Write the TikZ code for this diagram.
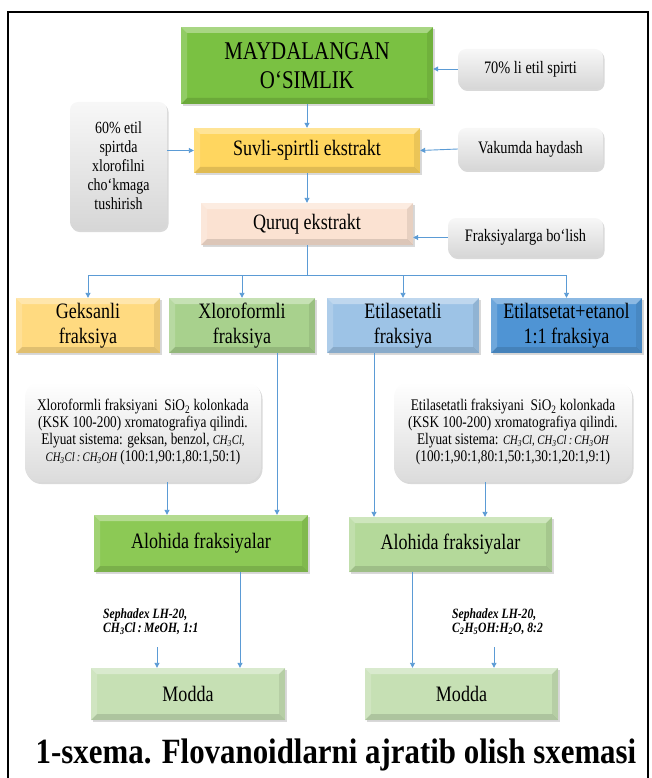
\documentclass[tikz,border=0pt]{standalone}
\usepackage{fontspec}
\setmainfont{Liberation Serif}[FakeStretch=0.82]
\newfontfamily\capfont{Liberation Serif}[FakeStretch=0.87]
\usetikzlibrary{arrows.meta,shadows}

\definecolor{linkblue}{RGB}{91,155,213}
\definecolor{cRaw}{RGB}{122,193,66}
\definecolor{cSuv}{RGB}{255,214,95}
\definecolor{cQur}{RGB}{251,226,210}
\definecolor{cGek}{RGB}{255,218,128}
\definecolor{cXlo}{RGB}{168,209,141}
\definecolor{cEtl}{RGB}{157,195,230}
\definecolor{cEte}{RGB}{79,148,212}
\definecolor{cAl1}{RGB}{140,201,85}
\definecolor{cAl2}{RGB}{180,217,154}
\definecolor{cMod}{RGB}{198,224,180}

\newcommand{\chemf}[1]{{\itshape\fontsize{13}{15}\selectfont #1}}

\tikzset{
  bevel/.style={path picture={
    \fill[white,opacity=.35] (path picture bounding box.north west) -- (path picture bounding box.north east)
      -- ([xshift=-6pt,yshift=-6pt]path picture bounding box.north east) -- ([xshift=6pt,yshift=-6pt]path picture bounding box.north west) -- cycle;
    \fill[white,opacity=.18] (path picture bounding box.north west) -- (path picture bounding box.south west)
      -- ([xshift=6pt,yshift=6pt]path picture bounding box.south west) -- ([xshift=6pt,yshift=-6pt]path picture bounding box.north west) -- cycle;
    \fill[black,opacity=.12] (path picture bounding box.south west) -- (path picture bounding box.south east)
      -- ([xshift=-6pt,yshift=6pt]path picture bounding box.south east) -- ([xshift=6pt,yshift=6pt]path picture bounding box.south west) -- cycle;
    \fill[black,opacity=.08] (path picture bounding box.north east) -- (path picture bounding box.south east)
      -- ([xshift=-6pt,yshift=6pt]path picture bounding box.south east) -- ([xshift=-6pt,yshift=-6pt]path picture bounding box.north east) -- cycle;
  }},
  stage/.style={bevel, align=center, inner sep=2pt, font=\fontsize{22}{25}\selectfont,
    drop shadow={opacity=.3, shadow xshift=1.5pt, shadow yshift=-2pt}},
  note/.style={rounded corners=8pt, top color=gray!6, bottom color=gray!32, align=center, inner sep=2pt,
    font=\fontsize{17.5}{19}\selectfont, drop shadow={opacity=.3, shadow xshift=1.5pt, shadow yshift=-2pt}},
  column/.style={note, rounded corners=15pt, top color=white, bottom color=gray!28, font=\fontsize{16.2}{17}\selectfont},
  solvent/.style={anchor=west, align=left, inner sep=0pt, font=\fontsize{14.2}{14}\selectfont\bfseries\itshape},
  link/.style={draw=linkblue, line width=0.9pt},
  arr/.style={link, -{Triangle[length=5pt,width=5pt]}}
}

\begin{document}
\begin{tikzpicture}[x=1pt,y=-1pt]
\useasboundingbox (0,0) rectangle (652,778);
\begin{scope}
\clip (0,0) rectangle (652,778);
\draw[line width=1.6pt] (8,12) rectangle (648,820);
\end{scope}

\node[stage, fill=cRaw, minimum width=252pt, minimum height=77pt, font=\fontsize{25.5}{29}\selectfont] (raw) at (307,65.5) {MAYDALANGAN\\O‘SIMLIK};
\node[note, minimum width=145pt, minimum height=40pt] (l70) at (530.5,69) {70\% li etil spirti};
\node[note, minimum width=97pt, minimum height=128pt, font=\fontsize{17}{19}\selectfont] (l60) at (118.5,166) {60\% etil\\spirtda\\xlorofilni\\cho‘kmaga\\tushirish};
\node[stage, fill=cSuv, minimum width=226pt, minimum height=45pt] (suv) at (307,150.5) {Suvli-spirtli ekstrakt};
\node[note, minimum width=145pt, minimum height=42pt] (vak) at (530.5,149) {Vakumda haydash};
\node[stage, fill=cQur, minimum width=212pt, minimum height=42pt] (qur) at (307,224) {Quruq ekstrakt};
\node[note, minimum width=155pt, minimum height=39pt] (frk) at (525.5,237.5) {Fraksiyalarga bo‘lish};
\coordinate (hub) at (307,275);

\node[stage, fill=cGek, minimum width=144pt, minimum height=55pt] (gek) at (88,325.5) {Geksanli\\fraksiya};
\node[stage, fill=cXlo, minimum width=146pt, minimum height=55pt] (xlo) at (242,325.5) {Xloroformli\\fraksiya};
\node[stage, fill=cEtl, minimum width=152pt, minimum height=55pt] (etl) at (403,325.5) {Etilasetatli\\fraksiya};
\node[stage, fill=cEte, minimum width=151pt, minimum height=55pt] (ete) at (566.5,325.5) {Etilatsetat+etanol\\1:1 fraksiya};

\node[column, minimum width=236pt, minimum height=100pt] (kol1) at (143,432) {Xloroformli fraksiyani\ \ SiO\textsubscript{2} kolonkada\\(KSK 100-200) xromatografiya qilindi.\\Elyuat sistema: geksan, benzol, \chemf{CH\textsubscript{3}Cl,}\\\chemf{CH\textsubscript{3}Cl\,:\,CH\textsubscript{3}OH} (100:1,90:1,80:1,50:1)};
\node[column, minimum width=238pt, minimum height=100pt] (kol2) at (513,432) {Etilasetatli fraksiyani\ \ SiO\textsubscript{2} kolonkada\\(KSK 100-200) xromatografiya qilindi.\\Elyuat sistema: \chemf{CH\textsubscript{3}Cl, CH\textsubscript{3}Cl\,:\,CH\textsubscript{3}OH}\\(100:1,90:1,80:1,50:1,30:1,20:1,9:1)};

\node[stage, fill=cAl1, minimum width=214pt, minimum height=57pt] (al1) at (201,543.5) {Alohida fraksiyalar};
\node[stage, fill=cAl2, minimum width=203pt, minimum height=55pt] (al2) at (450.5,544.5) {Alohida fraksiyalar};

\node[solvent] (sep1) at (103,622) {Sephadex LH-20,\\CH\textsubscript{3}Cl\,:\,MeOH, 1:1};
\node[solvent] (sep2) at (452,622) {Sephadex LH-20,\\C\textsubscript{2}H\textsubscript{5}OH:H\textsubscript{2}O, 8:2};
\coordinate (s1) at (157,647);
\coordinate (s2) at (494,647);

\node[stage, fill=cMod, minimum width=194pt, minimum height=52pt] (mod1) at (188,694) {Modda};
\node[stage, fill=cMod, minimum width=193pt, minimum height=52pt] (mod2) at (461.5,694) {Modda};

\node[font=\capfont\fontsize{35.5}{40}\selectfont\bfseries] (cap) at (336,755) {1-sxema. Flovanoidlarni ajratib olish sxemasi};

\draw[arr] (l70.west) -- (l70.west -| raw.east);
\draw[arr] (raw.south) -- (suv.north);
\draw[arr] (l60.east |- suv.west) -- (suv.west);
\draw[arr] (vak.west) -- (suv.east);
\draw[arr] (suv.south) -- (qur.north);
\draw[arr] (frk.west) -- (frk.west -| qur.east);
\draw[link] (qur.south) -- (hub);
\draw[arr] (hub) -| (gek.north);
\draw[arr] (hub) -| (xlo.north);
\draw[arr] (hub) -| (etl.north);
\draw[arr] (hub) -| (ete.north);

\draw[arr] ([xshift=35pt]xlo.south) -- ([xshift=35pt]xlo.south |- al1.north);
\draw[arr] ([xshift=24pt]kol1.south) -- ([xshift=24pt]kol1.south |- al1.north);
\draw[arr] ([xshift=-29pt]etl.south) -- ([xshift=-29pt]etl.south |- al2.north);
\draw[arr] ([xshift=-28pt]kol2.south) -- ([xshift=-28pt]kol2.south |- al2.north);

\draw[arr] ([xshift=39pt]al1.south) -- ([xshift=39pt]al1.south |- mod1.north);
\draw[arr] (s1) -- (s1 |- mod1.north);
\draw[arr] ([xshift=-38pt]al2.south) -- ([xshift=-38pt]al2.south |- mod2.north);
\draw[arr] (s2) -- (s2 |- mod2.north);
\end{tikzpicture}
\end{document}
